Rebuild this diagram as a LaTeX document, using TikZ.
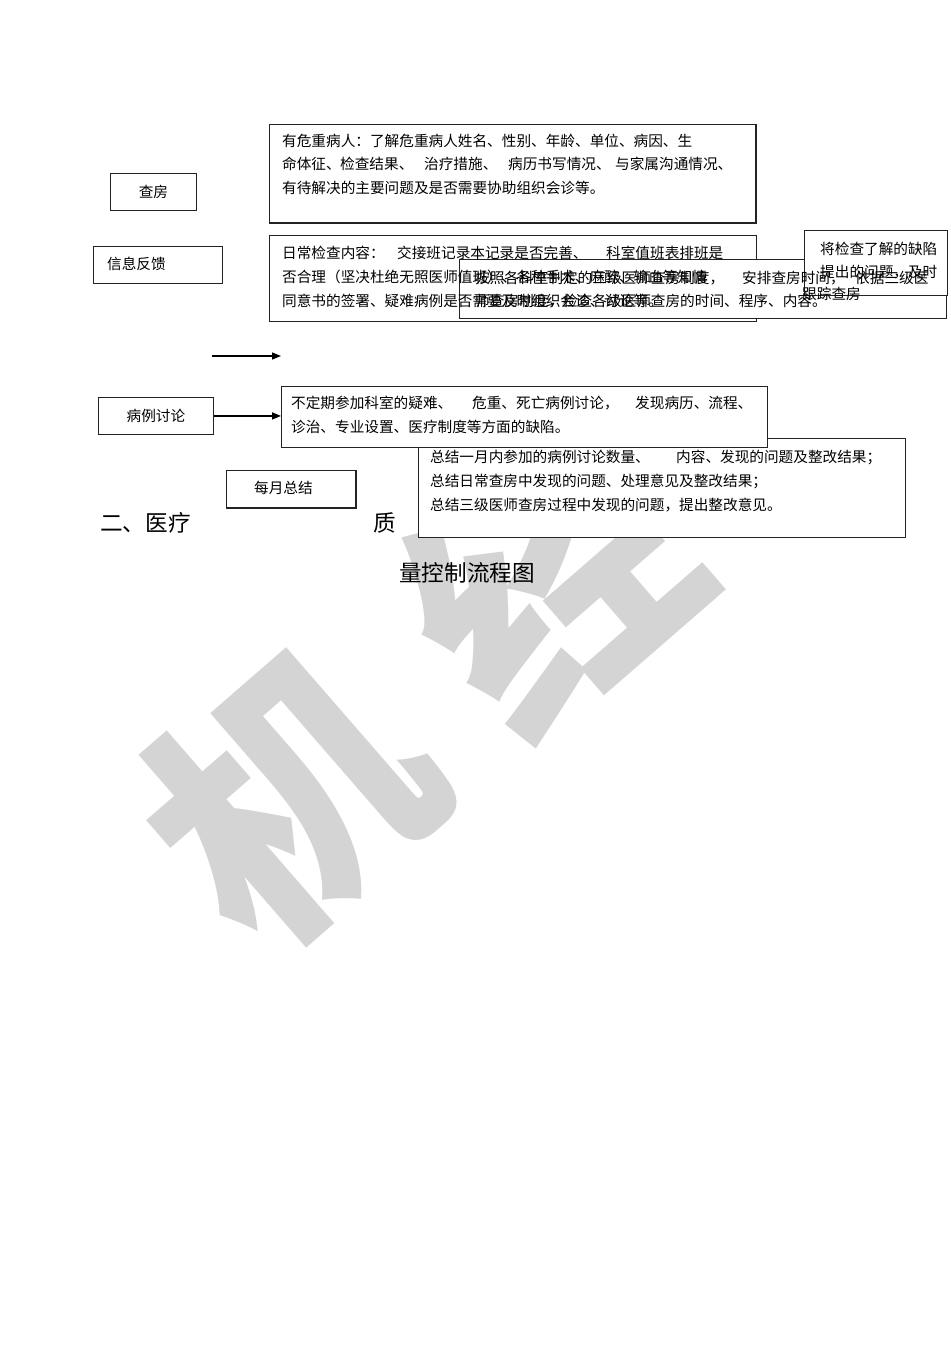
\documentclass[tikz,border=0pt]{standalone}
\usepackage{fontspec}
\newfontfamily\cjk{Noto Sans CJK SC}
\usetikzlibrary{arrows.meta}
\definecolor{wm}{RGB}{212,212,212}
\definecolor{edge}{RGB}{35,35,35}
\begin{document}
\begin{tikzpicture}[x=1bp,y=-1bp,
  box/.style={draw=edge,line width=0.9bp,fill=white,rectangle,inner sep=0,anchor=north west},
  txt/.style={anchor=west,inner sep=0,font=\cjk\fontsize{14.7}{14.7}\selectfont},
  big/.style={anchor=west,inner sep=0,font=\cjk\fontsize{22.7}{22.7}\selectfont},
  arr/.style={line width=1.4bp,-{Triangle[length=9bp,width=7bp]}},
  heavy/.style={draw=edge,line width=1.9bp},
  wmark/.style={rotate=41,text=wm,inner sep=0,font=\cjk\bfseries\fontsize{270}{270}\selectfont},
]
\useasboundingbox (0,0) rectangle (950,1345);
\fill[white] (0,0) rectangle (950,1345);

% watermark
\node[wmark] (wmk1) at (288,795) {机};
\node[wmark] (wmk2) at (548,578) {经};

% boxes
\node[box,minimum width=486bp,minimum height=98bp] (b1) at (269,124) {};
\node[box,minimum width=86bp,minimum height=37bp] (bcf) at (110,173) {};
\node[box,minimum width=129bp,minimum height=37bp] (bxx) at (93,246) {};
\node[box,minimum width=487bp,minimum height=86bp] (b2) at (269,235) {};
\node[box,minimum width=487bp,minimum height=59bp] (b3) at (459,259) {};
\node[box,minimum width=143bp,minimum height=65bp] (b4) at (804,230) {};
\node[box,minimum width=115bp,minimum height=37bp] (bbl) at (98,397) {};
\node[box,minimum width=487bp,minimum height=99bp] (bzj) at (418,438) {};
\node[box,minimum width=486bp,minimum height=61bp] (bbd) at (281,386) {};
\node[box,minimum width=129bp,minimum height=37bp] (bmy) at (226,470) {};
\draw[heavy] (b1.north east) -- (b1.south east) -- (b1.south west);
\draw[heavy,line width=1.4bp] (bmy.north east) -- (bmy.south east) -- (bmy.south west);

% connectors
\coordinate (a1s) at (212,356);
\coordinate (a1e) at (281,356);
\draw[arr] (a1s) -- (a1e);
\draw[arr] (bbl.east) -- (bbl.east -| bbd.west);

% small labels
\node[txt,anchor=center] (tcf) at (bcf.center) {查房};
\node[txt] (txx) at (107,264) {信息反馈};
\node[txt,anchor=center] (tbl) at (bbl.center) {病例讨论};
\node[txt] (tmy) at (254,488) {每月总结};

% box 1
\node[txt] (t1a) at (282,141) {有危重病人：了解危重病人姓名、性别、年龄、单位、病因、生};
\node[txt] (t1b1) at (282,164) {命体征、};
\node[txt] (t1b2) at (340,164) {检查结果、};
\node[txt] (t1b3) at (424,164) {治疗措施、};
\node[txt] (t1b4) at (508,164) {病历书写情况、};
\node[txt] (t1b5) at (615,164) {与家属沟通情况、};
\node[txt] (t1c) at (282,188) {有待解决的主要问题及是否需要协助组织会诊等。};

% box 2
\node[txt] (t2a1) at (282,253) {日常检查内容：};
\node[txt] (t2a2) at (397,253) {交接班记录本记录是否完善、};
\node[txt] (t2a3) at (606,253) {科室值班表排班是};
\node[txt] (t2b) at (282,277) {否合理（坚决杜绝无照医师值班）、各种手术、麻醉、输血等知情};
\node[txt] (t2c) at (282,301) {同意书的签署、疑难病例是否需要及时组织会诊、讨论等。};

% box 3
\node[txt] (t3a1) at (475,278) {按照各科室制定的三级医师查房制度，};
\node[txt] (t3a2) at (742,278) {安排查房时间，};
\node[txt] (t3a3) at (855,278) {依据三级医};
\node[txt] (t3b) at (475,301) {师查房制度，检查各级医师查房的时间、程序、内容。};

% box 4
\node[txt] (t4a) at (820,249) {将检查了解的缺陷};
\node[txt] (t4b) at (820,272) {提出的问题，及时};
\node[txt] (t4c) at (802,294) {跟踪查房};

% case discussion box
\node[txt] (t5a1) at (291,403) {不定期参加科室的疑难、};
\node[txt] (t5a2) at (472,403) {危重、死亡病例讨论，};
\node[txt] (t5a3) at (635,403) {发现病历、流程、};
\node[txt] (t5b) at (291,427) {诊治、专业设置、医疗制度等方面的缺陷。};

% summary box
\node[txt] (t6a1) at (430,457) {总结一月内参加的病例讨论数量、};
\node[txt] (t6a2) at (676,457) {内容、发现的问题及整改结果；};
\node[txt] (t6b) at (430,481) {总结日常查房中发现的问题、处理意见及整改结果；};
\node[txt] (t6c) at (430,505) {总结三级医师查房过程中发现的问题，提出整改意见。};

% title
\node[big] (ttl1) at (100,523) {二、医疗};
\node[big] (ttl2) at (373,523) {质};
\node[big] (ttl3) at (399,573) {量控制流程图};
\end{tikzpicture}
\end{document}
